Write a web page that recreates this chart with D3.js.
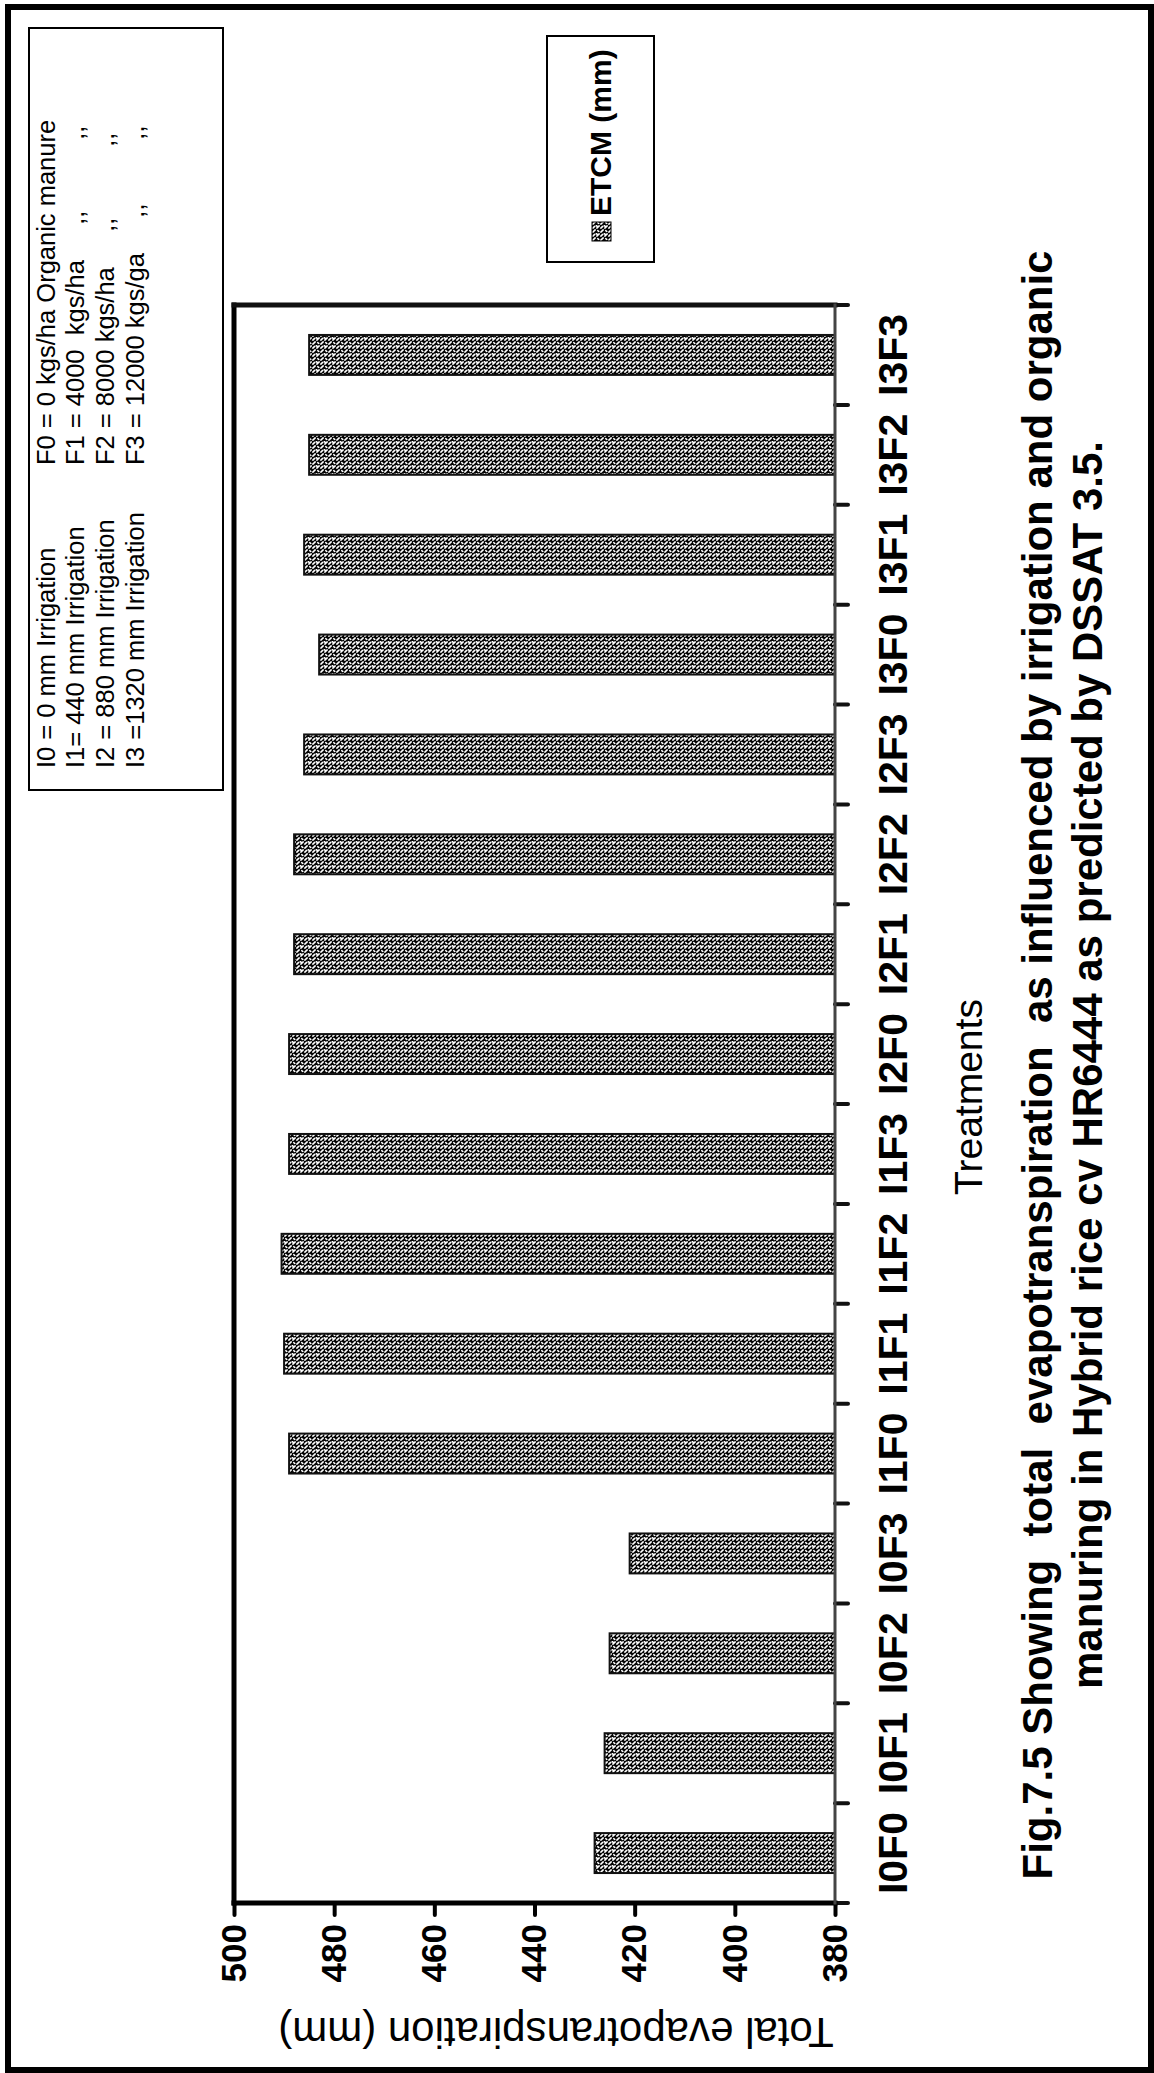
<!DOCTYPE html>
<html>
<head>
<meta charset="utf-8">
<script src="https://cdn.jsdelivr.net/npm/d3@7"></script>
<style>
  html, body { margin: 0; padding: 0; background: #fff; }
  svg { display: block; }
  text { font-family: "Liberation Sans", Arial, Helvetica, sans-serif; fill: #000; }
</style>
</head>
<body>
<svg id="chart" width="1154" height="2073"></svg>
<script>
// ---- data ----
const categories = ["I0F0", "I0F1", "I0F2", "I0F3",
                    "I1F0", "I1F1", "I1F2", "I1F3",
                    "I2F0", "I2F1", "I2F2", "I2F3",
                    "I3F0", "I3F1", "I3F2", "I3F3"];
const etcm = [428, 426, 425, 421,
              489, 490, 490.5, 489,
              489, 488, 488, 486,
              483, 486, 485, 485];
const valueTicks = [380, 400, 420, 440, 460, 480, 500];
const seriesName = "ETCM (mm)";
const irrigationKey = ["I0 = 0 mm Irrigation", "I1= 440 mm Irrigation",
                       "I2 = 880 mm Irrigation", "I3 =1320 mm Irrigation"];
const manureKey = ["F0 = 0 kgs/ha Organic manure",
                   "F1 = 4000  kgs/ha     ,,          ,,",
                   "F2 = 8000 kgs/ha     ,,          ,,",
                   "F3 = 12000 kgs/ga     ,,         ,,"];
const xTitle = "Treatments";
const yTitle = "Total evapotranspiration (mm)";
const titleLines = [
  "Fig.7.5 Showing  total  evapotranspiration  as influenced by irrigation and organic",
  "manuring in Hybrid rice cv HR6444 as predicted by DSSAT 3.5."
];

// ---- page ----
const PAGE_W = 1154, PAGE_H = 2073;
const svg = d3.select("#chart");

// hatch fill used by the bars and the legend swatch
const defs = svg.append("defs");
const pat = defs.append("pattern")
  .attr("id", "hatch").attr("patternUnits", "userSpaceOnUse")
  .attr("width", 8).attr("height", 8);
pat.append("rect").attr("width", 8).attr("height", 8).attr("fill", "#050505");
pat.append("path")
  .attr("d", "M0.9,0.9 L3.1,3.1 M4.9,4.9 L7.1,7.1 M4.9,0.9 L6.6,2.6 M6.2,5.6 L7.4,4.4 M1.6,6.6 L2.4,5.8")
  .attr("stroke", "#fff").attr("stroke-width", 1.5).attr("stroke-linecap", "round");

// outer page frame
svg.append("rect")
  .attr("x", 8).attr("y", 7).attr("width", PAGE_W - 11).attr("height", PAGE_H - 10)
  .attr("fill", "none").attr("stroke", "#000").attr("stroke-width", 6);

// the figure is laid out landscape and turned a quarter turn counter-clockwise
const fig = svg.append("g").attr("transform", `translate(0,${PAGE_H}) rotate(-90)`);

const plot = { left: 170, right: 1768, top: 234, bottom: 835 };

const x = d3.scaleBand()
  .domain(categories)
  .range([plot.left, plot.right])
  .paddingInner(0.6)
  .paddingOuter(0.3);

const y = d3.scaleLinear()
  .domain([valueTicks[0], valueTicks[valueTicks.length - 1]])
  .range([plot.bottom, plot.top]);

// bars
fig.append("g").selectAll("rect")
  .data(categories.map((c, i) => ({ c, v: etcm[i] })))
  .join("rect")
  .attr("x", d => x(d.c))
  .attr("width", x.bandwidth())
  .attr("y", d => y(d.v))
  .attr("height", d => y(valueTicks[0]) - y(d.v))
  .attr("fill", "url(#hatch)")
  .attr("stroke", "#111")
  .attr("stroke-width", 2);

// value axis
const yAxis = fig.append("g")
  .attr("transform", `translate(${plot.left},0)`)
  .call(d3.axisLeft(y).tickValues(valueTicks).tickSize(12).tickPadding(9).tickFormat(d3.format("d")));
yAxis.select(".domain").remove();
yAxis.selectAll(".tick line").attr("stroke", "#000").attr("stroke-width", 4).attr("stroke-linecap", "round");
yAxis.selectAll(".tick text")
  .style("font-size", "35px").style("font-weight", "bold").attr("fill", "#000");

// category axis labels
const xAxis = fig.append("g")
  .attr("transform", `translate(0,${plot.bottom})`)
  .call(d3.axisBottom(x).tickSize(0));
xAxis.select(".domain").remove();
xAxis.selectAll(".tick text")
  .attr("y", 72).attr("dy", null)
  .style("font-size", "41px").style("font-weight", "bold").attr("fill", "#000");

// boundary ticks between treatments
const gap = (x.step() - x.bandwidth()) / 2;
const bounds = categories.map(c => x(c) - gap).concat([x(categories[categories.length - 1]) + x.bandwidth() + gap]);
fig.append("g").selectAll("line")
  .data(bounds)
  .join("line")
  .attr("x1", d => d).attr("x2", d => d)
  .attr("y1", plot.bottom).attr("y2", plot.bottom + 13)
  .attr("stroke", "#111").attr("stroke-width", 4).attr("stroke-linecap", "round");

// plot frame
const frame = fig.append("g").attr("fill", "none").attr("stroke-linecap", "square");
frame.append("line").attr("x1", plot.left).attr("x2", plot.left).attr("y1", plot.top).attr("y2", plot.bottom)
  .attr("stroke", "#000").attr("stroke-width", 5);
frame.append("line").attr("x1", plot.left).attr("x2", plot.right).attr("y1", plot.top).attr("y2", plot.top)
  .attr("stroke", "#000").attr("stroke-width", 5);
frame.append("line").attr("x1", plot.right).attr("x2", plot.right).attr("y1", plot.top).attr("y2", plot.bottom)
  .attr("stroke", "#111").attr("stroke-width", 5);
frame.append("line").attr("x1", plot.left).attr("x2", plot.right).attr("y1", plot.bottom).attr("y2", plot.bottom)
  .attr("stroke", "#444").attr("stroke-width", 3);

// axis titles
fig.append("text")
  .attr("x", 976).attr("y", 982)
  .attr("text-anchor", "middle")
  .style("font-size", "39px")
  .text(xTitle);

fig.append("text")
  .attr("transform", "translate(55,556) rotate(-90)")
  .attr("text-anchor", "middle")
  .style("font-size", "42px")
  .text(yTitle);

// caption
fig.append("g").selectAll("text")
  .data(titleLines)
  .join("text")
  .attr("x", 1008)
  .attr("y", (d, i) => 1052 + i * 50)
  .attr("text-anchor", "middle")
  .style("font-size", "42px").style("font-weight", "bold")
  .style("white-space", "pre")
  .text(d => d);

// treatment key
const key = fig.append("g");
key.append("rect")
  .attr("x", 1283).attr("y", 29).attr("width", 762).attr("height", 194)
  .attr("fill", "#fff").attr("stroke", "#000").attr("stroke-width", 2);
const rowY = [55, 84, 114, 144];
key.selectAll("text.irr")
  .data(irrigationKey).join("text").attr("class", "irr")
  .attr("x", 1305).attr("y", (d, i) => rowY[i])
  .style("font-size", "25.5px").style("white-space", "pre")
  .text(d => d);
key.selectAll("text.man")
  .data(manureKey).join("text").attr("class", "man")
  .attr("x", 1608).attr("y", (d, i) => rowY[i])
  .style("font-size", "25.5px").style("white-space", "pre")
  .text(d => d);

// series legend
const leg = fig.append("g");
leg.append("rect")
  .attr("x", 1811).attr("y", 547).attr("width", 226).attr("height", 107)
  .attr("fill", "#fff").attr("stroke", "#000").attr("stroke-width", 2);
leg.append("rect")
  .attr("x", 1832).attr("y", 592).attr("width", 19).attr("height", 19)
  .attr("fill", "url(#hatch)").attr("stroke", "#000").attr("stroke-width", 1);
leg.append("text")
  .attr("x", 1857).attr("y", 611)
  .style("font-size", "30px").style("font-weight", "bold")
  .text(seriesName);
</script>
</body>
</html>
